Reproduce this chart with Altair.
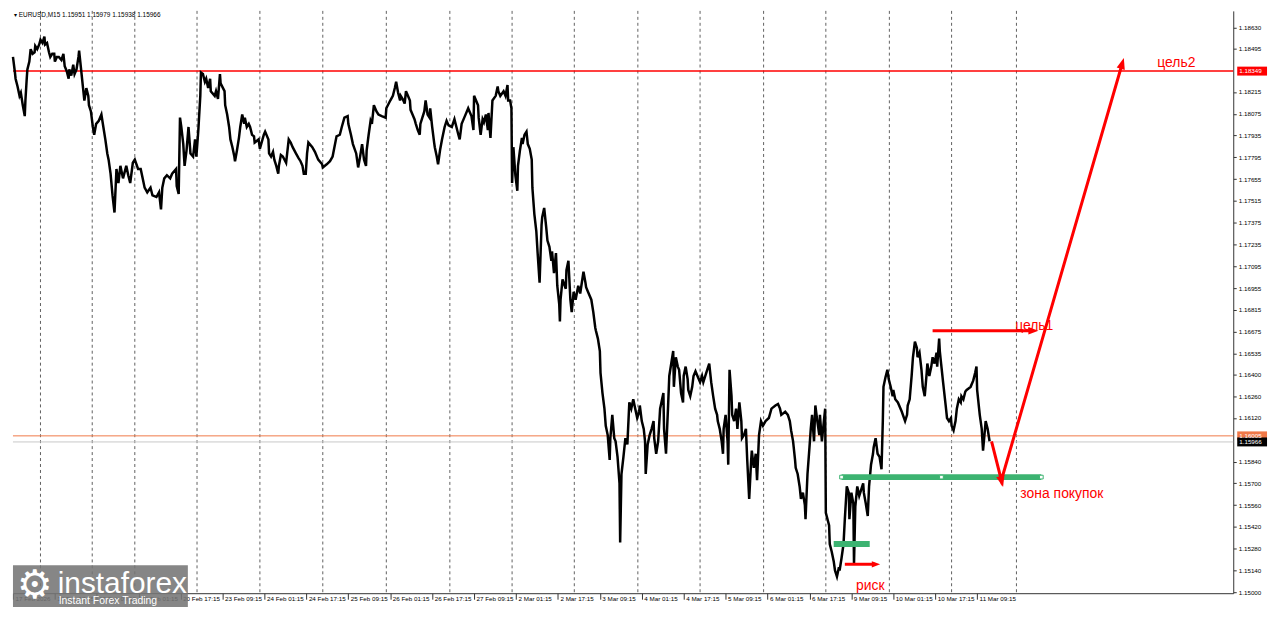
import json
import altair as alt
import pandas as pd

W, H = 1228, 586

# ---- price path (M15 bar index, close) ----
bars = [
    0, 3, 4, 7, 10, 12, 15, 18, 19, 21, 22, 25, 27, 30, 33, 34, 37, 40, 42, 45, 48, 49, 52, 55, 57, 60, 63, 64, 67, 70,
    74, 77, 79, 82, 85, 86, 89, 92, 94, 97, 100, 101, 104, 107, 109, 112, 115, 116, 119, 122, 124, 127, 131, 135, 138,
    141, 144, 146, 149, 152, 155, 158, 161, 164, 168, 173, 176, 179, 183, 186, 191, 195, 198, 201, 205, 210, 213, 219,
    223, 226, 228, 231, 235, 240, 243, 249, 250, 253, 255, 257, 260, 262, 265, 268, 271, 275, 278, 280, 283, 286, 287,
    290, 293, 295, 298, 301, 302, 308, 310, 313, 316, 317, 323, 324, 327, 330, 332, 335, 338, 339, 342, 345, 347, 350,
    353, 354, 357, 360, 362, 365, 368, 369, 375, 377,
    383, 385, 390, 391, 394, 397, 399, 402, 405, 406, 409, 412, 417, 421, 424, 427, 432, 436, 439, 442, 444, 447, 449,
    451, 457, 461, 466, 472, 473, 479, 484, 488, 494, 499, 502, 506, 511, 512, 516, 519, 524, 527, 530, 533, 536, 539,
    540, 543, 546, 548, 551, 555, 558, 563, 569, 570, 576, 580, 583, 585, 588, 591, 592, 595, 598, 600, 603, 606, 607,
    610, 613, 615, 618, 621, 622, 625, 628, 630, 633, 636, 637, 640, 643, 644, 647, 649, 652, 655, 659, 662, 665, 670,
    674, 677, 680, 682, 685, 689, 695, 697, 700, 703, 704, 710, 711, 714, 717, 719, 722, 725, 726, 729, 732, 737, 740,
    741, 744, 749, 752, 755, 756, 759, 761,
    762, 764, 767, 770, 771, 774, 777, 778, 781, 784, 786, 789, 792, 793, 796, 799, 801, 804, 807, 808, 811, 814, 816,
    819, 822, 823, 826, 829, 831, 834, 835, 836, 839, 844, 845, 848, 851, 853, 856, 859, 863, 866, 871, 874, 875, 878,
    883, 886, 889, 890, 893, 896, 897, 900, 903, 905, 908, 911, 912, 915, 918, 920, 923, 926, 927, 929, 932, 935, 938,
    941, 944, 947, 950, 953, 956, 957, 960, 963, 965, 966, 969, 972, 975, 978, 979, 982, 985, 988, 993, 994, 997, 1000,
    1002, 1005, 1008, 1009, 1012, 1015, 1017, 1020, 1023, 1024, 1027, 1030, 1031, 1034, 1037, 1039, 1042, 1045, 1049,
    1052, 1054, 1057, 1060, 1063, 1066, 1069, 1072, 1075, 1076, 1079, 1082, 1084, 1085, 1088, 1091, 1092, 1094, 1097,
    1098, 1101, 1104, 1106, 1109, 1112, 1113, 1116, 1119, 1121, 1124,
    1127, 1128, 1131, 1134, 1136, 1139, 1142, 1145, 1149, 1154, 1158, 1164, 1168, 1171, 1173, 1179, 1183, 1186, 1188,
    1191, 1194, 1195, 1198, 1201, 1203, 1206, 1209, 1210, 1213, 1216, 1218, 1220, 1223, 1225, 1228, 1231, 1232, 1235,
    1238, 1240, 1241, 1246, 1247, 1250, 1253, 1255, 1258, 1261, 1262, 1265, 1268, 1270, 1273, 1276, 1277, 1280, 1283,
    1284, 1286, 1289, 1292, 1295, 1298, 1299, 1302, 1305, 1307, 1310, 1313, 1314, 1317, 1320, 1323, 1326, 1328, 1329,
    1332, 1335, 1337, 1340, 1343, 1344, 1347, 1351, 1357, 1362, 1365, 1366, 1369, 1372, 1374, 1377, 1380, 1381, 1384,
    1387, 1389, 1392, 1395, 1396, 1399, 1402, 1404, 1407, 1410, 1411, 1414, 1415, 1417, 1420, 1424, 1426, 1429, 1432,
    1433, 1436, 1439, 1441, 1444, 1447, 1448, 1451, 1454, 1456, 1462, 1466, 1469, 1471, 1472, 1475, 1476, 1479, 1481,
    1484, 1485, 1488, 1491,
]
closes = [
    1.1844, 1.1834, 1.1830, 1.1825, 1.1819, 1.1821, 1.1813, 1.1806, 1.1816, 1.1830, 1.1836, 1.1841, 1.1849, 1.1846,
    1.1847, 1.1851, 1.1849, 1.1852, 1.1855, 1.1853, 1.1857, 1.1852, 1.1853, 1.1847, 1.1844, 1.1846, 1.1846, 1.1841,
    1.1844, 1.1844, 1.1842, 1.1846, 1.1838, 1.1835, 1.1830, 1.1836, 1.1832, 1.1839, 1.1833, 1.1836, 1.1844, 1.1848,
    1.1836, 1.1824, 1.1816, 1.1824, 1.1819, 1.1813, 1.1809, 1.1799, 1.1794, 1.1801, 1.1803, 1.1807, 1.1799, 1.1791,
    1.1782, 1.1778, 1.1769, 1.1755, 1.1744, 1.1772, 1.1763, 1.1774, 1.1766, 1.1774, 1.1768, 1.1763, 1.1776, 1.1778,
    1.1772, 1.1772, 1.1766, 1.1760, 1.1757, 1.1760, 1.1755, 1.1754, 1.1757, 1.1746, 1.1760, 1.1766, 1.1768, 1.1766,
    1.1769, 1.1772, 1.1761, 1.1756, 1.1805, 1.1799, 1.1788, 1.1774, 1.1784, 1.1799, 1.1782, 1.1780, 1.1791, 1.1780,
    1.1797, 1.1819, 1.1834, 1.1833, 1.1828, 1.1830, 1.1824, 1.1830, 1.1822, 1.1819, 1.1822, 1.1817, 1.1833, 1.1827,
    1.1822, 1.1813, 1.1807, 1.1799, 1.1791, 1.1786, 1.1780, 1.1777, 1.1784, 1.1792, 1.1799, 1.1807, 1.1801, 1.1805,
    1.1799, 1.1801, 1.1799, 1.1794, 1.1793, 1.1789, 1.1791, 1.1785,
    1.1794, 1.1796, 1.1791, 1.1782, 1.1780, 1.1783, 1.1778, 1.1774, 1.1769, 1.1774, 1.1781, 1.1780, 1.1776, 1.1791,
    1.1789, 1.1786, 1.1782, 1.1779, 1.1777, 1.1774, 1.1769, 1.1769, 1.1782, 1.1789, 1.1786, 1.1783, 1.1778, 1.1775,
    1.1773, 1.1775, 1.1777, 1.1780, 1.1793, 1.1794, 1.1799, 1.1805, 1.1806, 1.1801, 1.1794, 1.1788, 1.1782, 1.1773,
    1.1780, 1.1788, 1.1778, 1.1774, 1.1784, 1.1794, 1.1803, 1.1801, 1.1813, 1.1809, 1.1807, 1.1806, 1.1805, 1.1811,
    1.1816, 1.1819, 1.1824, 1.1828, 1.1821, 1.1816, 1.1819, 1.1817, 1.1814, 1.1822, 1.1819, 1.1816, 1.1810, 1.1807,
    1.1804, 1.1801, 1.1797, 1.1794, 1.1801, 1.1805, 1.1809, 1.1816, 1.1807, 1.1805, 1.1811, 1.1799, 1.1789, 1.1786,
    1.1780, 1.1775, 1.1784, 1.1791, 1.1799, 1.1803, 1.1800, 1.1799, 1.1804, 1.1799, 1.1794, 1.1791, 1.1801, 1.1805,
    1.1811, 1.1809, 1.1806, 1.1797, 1.1819, 1.1813, 1.1805, 1.1794, 1.1804, 1.1802, 1.1807, 1.1797, 1.1808, 1.1792,
    1.1816, 1.1819, 1.1825, 1.1822, 1.1819, 1.1822, 1.1819, 1.1826, 1.1816, 1.1816, 1.1811,
    1.1763, 1.1786, 1.1768, 1.1758, 1.1774, 1.1784, 1.1792, 1.1788, 1.1794, 1.1796, 1.1788, 1.1785, 1.1778, 1.1760,
    1.1743, 1.1732, 1.1718, 1.1699, 1.1736, 1.1741, 1.1747, 1.1735, 1.1726, 1.1722, 1.1713, 1.1719, 1.1705, 1.1718,
    1.1697, 1.1685, 1.1674, 1.1688, 1.1701, 1.1695, 1.1707, 1.1713, 1.1688, 1.1680, 1.1693, 1.1688, 1.1697, 1.1692,
    1.1706, 1.1699, 1.1696, 1.1693, 1.1688, 1.1680, 1.1670, 1.1668, 1.1663, 1.1655, 1.1641, 1.1628, 1.1618, 1.1607,
    1.1601, 1.1585, 1.1599, 1.1614, 1.1599, 1.1597, 1.1587, 1.1570, 1.1532, 1.1576, 1.1587, 1.1599, 1.1595, 1.1622,
    1.1618, 1.1624, 1.1618, 1.1612, 1.1616, 1.1620, 1.1610, 1.1605, 1.1597, 1.1576, 1.1595, 1.1601, 1.1605, 1.1610,
    1.1599, 1.1589, 1.1597, 1.1618, 1.1628, 1.1605, 1.1589, 1.1618, 1.1639, 1.1647, 1.1655, 1.1632, 1.1651, 1.1645,
    1.1643, 1.1628, 1.1622, 1.1639, 1.1645, 1.1637, 1.1630, 1.1626, 1.1632, 1.1639, 1.1642, 1.1639, 1.1635, 1.1639,
    1.1635, 1.1639, 1.1643, 1.1647, 1.1635, 1.1626, 1.1618, 1.1614, 1.1610, 1.1605, 1.1597, 1.1589, 1.1605, 1.1614,
    1.1597, 1.1582, 1.1643, 1.1626, 1.1614, 1.1610, 1.1618, 1.1605, 1.1622, 1.1610, 1.1599, 1.1601, 1.1605, 1.1585,
    1.1560,
    1.1585, 1.1591, 1.1580, 1.1589, 1.1572, 1.1601, 1.1610, 1.1607, 1.1610, 1.1612, 1.1618, 1.1620, 1.1621, 1.1618,
    1.1614, 1.1616, 1.1614, 1.1610, 1.1604, 1.1597, 1.1585, 1.1580, 1.1576, 1.1568, 1.1560, 1.1564, 1.1556, 1.1547,
    1.1576, 1.1593, 1.1605, 1.1614, 1.1597, 1.1620, 1.1610, 1.1601, 1.1614, 1.1597, 1.1610, 1.1618, 1.1551, 1.1543,
    1.1531, 1.1526, 1.1520, 1.1514, 1.1510, 1.1516, 1.1514, 1.1522, 1.1531, 1.1547, 1.1568, 1.1564, 1.1547, 1.1564,
    1.1557, 1.1518, 1.1555, 1.1568, 1.1562, 1.1566, 1.1570, 1.1564, 1.1557, 1.1549, 1.1568, 1.1582, 1.1589, 1.1593,
    1.1599, 1.1589, 1.1587, 1.1579, 1.1610, 1.1632, 1.1638, 1.1643, 1.1637, 1.1632, 1.1626, 1.1630, 1.1624, 1.1622,
    1.1616, 1.1610, 1.1614, 1.1620, 1.1624, 1.1639, 1.1651, 1.1661, 1.1657, 1.1651, 1.1654, 1.1643, 1.1632, 1.1626,
    1.1641, 1.1647, 1.1639, 1.1645, 1.1651, 1.1647, 1.1654, 1.1645, 1.1663, 1.1655, 1.1647, 1.1635, 1.1620, 1.1612,
    1.1610, 1.1612, 1.1607, 1.1604, 1.1610, 1.1618, 1.1624, 1.1622, 1.1626, 1.1624, 1.1629, 1.1630, 1.1632, 1.1636,
    1.1641, 1.1645, 1.1630, 1.1618, 1.1614, 1.1605, 1.1591, 1.1605, 1.1610, 1.1605, 1.1597,
]

# ---- axes ----
X_DOMAIN = [0, 1863]
Y_DOMAIN = [1.14994, 1.18736]
x_tick_bars = list(range(0, 1473, 64))
x_tick_labels = [
    "17 Feb 2026", "18 Feb 17:15", "19 Feb 09:15", "20 Feb 01:15", "20 Feb 17:15", "23 Feb 09:15",
    "24 Feb 01:15", "24 Feb 17:15", "25 Feb 09:15", "26 Feb 01:15", "26 Feb 17:15", "27 Feb 09:15",
    "2 Mar 01:15", "2 Mar 17:15", "3 Mar 09:15", "4 Mar 01:15", "4 Mar 17:15", "5 Mar 09:15",
    "6 Mar 01:15", "6 Mar 17:15", "9 Mar 09:15", "10 Mar 01:15", "10 Mar 17:15", "11 Mar 09:15",
]
y_ticks = [1.15000, 1.15140, 1.15280, 1.15420, 1.15560, 1.15700, 1.15840, 1.16120, 1.16260, 1.16400,
           1.16535, 1.16675, 1.16815, 1.16955, 1.17095, 1.17235, 1.17375, 1.17515, 1.17655, 1.17795,
           1.17935, 1.18075, 1.18215, 1.18495, 1.18630]

# day separators (bar index of each day start)
sep_bars = [42, 121, 186, 281, 377, 473, 570, 667, 762, 857, 954, 1049, 1146, 1241, 1338, 1433, 1532]

# ---- levels & annotations ----
target2_level = 1.18349
bid_level = 1.15966
ask_level = 1.16005
zone_bars = [1265, 1570]
zone_price = 1.1574
risk_bars = [1253, 1308]
risk_price = 1.1531
target1_bars = [1404, 1556]
target1_price = 1.1668
risk_arrow_bars = [1270, 1316]
risk_arrow_price = 1.1518
v_bars = [1494, 1509, 1693]
v_prices = [1.1597, 1.1572, 1.1839]
labels_text = ["цель1", "цель2", "зона покупок", "риск"]
labels_bar = [1530, 1747, 1538, 1287]
labels_price = [1.1671, 1.1840, 1.1563, 1.1504]

RED = "#ff0000"
GREEN = "#3cb371"
FONT = "Liberation Sans"

xs = alt.Scale(domain=X_DOMAIN, nice=False, zero=False)
ys = alt.Scale(domain=Y_DOMAIN, nice=False, zero=False)

label_expr = json.dumps(x_tick_labels) + "[round(datum.value / 64)]"

X_AXIS = alt.Axis(values=x_tick_bars, labelExpr=label_expr, orient="bottom", tickSize=6,
                  labelPadding=-4, labelAlign="left", labelBaseline="top", labelOffset=2,
                  labelFontSize=6.3, labelFont=FONT, labelColor="black", tickColor="#333",
                  domainColor="#333", grid=False, labelOverlap=False, labelFlush=False, title=None)
Y_AXIS = alt.Axis(values=y_ticks, format=".5f", orient="right", tickSize=3, labelPadding=2,
                  labelFontSize=6.3, labelFont=FONT, labelColor="black", tickColor="#333",
                  domainColor="#333", grid=False, labelOverlap=False, labelFlush=False, title=None)


def X(field):
    return alt.X(field, scale=xs, axis=X_AXIS, title=None)


def Y(field):
    return alt.Y(field, scale=ys, axis=Y_AXIS, title=None)


price_df = pd.DataFrame({"bar": bars, "close": closes})

price = alt.Chart(price_df).mark_line(color="black", strokeWidth=2.5).encode(
    x=X("bar:Q"), y=Y("close:Q"))

seps = alt.Chart(pd.DataFrame({"bar": sep_bars})).mark_rule(
    color="#606060", strokeDash=[3, 3], strokeWidth=1
).encode(x=X("bar:Q"))

lvl_df = pd.DataFrame({"p": [ask_level, bid_level, target2_level],
                       "c": ["#f07848", "#c8c8c8", RED],
                       "w": [1.0, 1.0, 1.5]})
levels = alt.Chart(lvl_df).mark_rule().encode(
    y=Y("p:Q"),
    color=alt.Color("c:N", scale=None),
    strokeWidth=alt.StrokeWidth("w:Q", scale=None),
)

zones_df = pd.DataFrame({"b1": [zone_bars[0], risk_bars[0]], "b2": [zone_bars[1], risk_bars[1]],
                         "p": [zone_price, risk_price]})
zones = alt.Chart(zones_df).mark_rule(color=GREEN, strokeWidth=6).encode(
    x=X("b1:Q"), x2="b2:Q", y=Y("p:Q"))

handles_df = pd.DataFrame({"b": [zone_bars[0], (zone_bars[0] + zone_bars[1]) / 2, zone_bars[1]],
                           "p": [zone_price] * 3})
handles = alt.Chart(handles_df).mark_square(size=14, fill="white", stroke=GREEN, strokeWidth=1, opacity=1).encode(
    x=X("b:Q"), y=Y("p:Q"))

seg_df = pd.DataFrame({
    "b": [target1_bars[0], target1_bars[1], risk_arrow_bars[0], risk_arrow_bars[1]] + v_bars,
    "p": [target1_price, target1_price, risk_arrow_price, risk_arrow_price] + v_prices,
    "g": ["t1", "t1", "r", "r", "v", "v", "v"],
    "o": [0, 1, 0, 1, 0, 1, 2],
})
segs = alt.Chart(seg_df).mark_line(color=RED, strokeWidth=3, strokeJoin="miter").encode(
    x=X("b:Q"), y=Y("p:Q"), detail="g:N", order="o:Q")

ARROW = "M0,-1L0.6,0.6L-0.6,0.6Z"
heads_df = pd.DataFrame({
    "b": [target1_bars[1], risk_arrow_bars[1], v_bars[1], v_bars[2]],
    "p": [target1_price, risk_arrow_price, v_prices[1], v_prices[2]],
    "a": [90, 90, 166, 16],
    "s": [160, 110, 200, 200],
})
heads = alt.Chart(heads_df).mark_point(shape=ARROW, filled=True, color=RED, opacity=1).encode(
    x=X("b:Q"), y=Y("p:Q"),
    angle=alt.Angle("a:Q", scale=None), size=alt.Size("s:Q", scale=None))

ann_df = pd.DataFrame({"t": labels_text, "b": labels_bar, "p": labels_price})
ann = alt.Chart(ann_df).mark_text(color=RED, fontSize=14, font=FONT, align="left", baseline="middle").encode(
    x=X("b:Q"), y=Y("p:Q"), text="t:N")

# price boxes on the right scale
box_df = pd.DataFrame({"p": [ask_level, bid_level, target2_level],
                       "c": ["#f07848", "#000000", RED],
                       "t": ["1.16005", "1.15966", "1.18349"]})
boxes = alt.Chart(box_df).mark_rule(strokeWidth=9).encode(
    y=Y("p:Q"), x=alt.value(W + 4), x2=alt.value(W + 34),
    color=alt.Color("c:N", scale=None))
box_txt = alt.Chart(box_df).mark_text(color="white", fontSize=6.3, font=FONT, align="left",
                                      baseline="middle").encode(
    y=Y("p:Q"), x=alt.value(W + 6), text="t:N")

one = pd.DataFrame({"k": [0]})
title = alt.Chart(one).mark_text(text="▾ EURUSD,M15  1.15951 1.15979 1.15938 1.15966", fontSize=6.5,
                                 font=FONT, align="left", baseline="middle", color="black").encode(
    x=alt.value(1), y=alt.value(4))

logo_bg = alt.Chart(one).mark_rect(color="#757575", opacity=0.88).encode(
    x=alt.value(0), x2=alt.value(176), y=alt.value(H - 28), y2=alt.value(H + 14))
logo_icon = alt.Chart(one).mark_text(text="⚙", fontSize=40, font="DejaVu Sans", color="white",
                                     align="center", baseline="middle").encode(
    x=alt.value(22), y=alt.value(H - 7))
logo_big = alt.Chart(one).mark_text(text="instaforex", fontSize=30, font=FONT, color="white",
                                    align="left", baseline="alphabetic").encode(
    x=alt.value(45), y=alt.value(H))
logo_small = alt.Chart(one).mark_text(text="Instant Forex Trading", fontSize=10.5, font=FONT, color="white",
                                      align="left", baseline="middle").encode(
    x=alt.value(46), y=alt.value(H + 8))

chart = alt.layer(
    seps, levels, price, zones, handles, segs, heads, ann, boxes, box_txt, title,
    logo_bg, logo_icon, logo_big, logo_small,
).properties(
    width=W, height=H, padding={"left": 0, "top": 0, "right": 0, "bottom": 0}, background="white"
).configure_view(stroke=None)

chart.save("out.html", embed_options={"renderer": "svg", "actions": False})
